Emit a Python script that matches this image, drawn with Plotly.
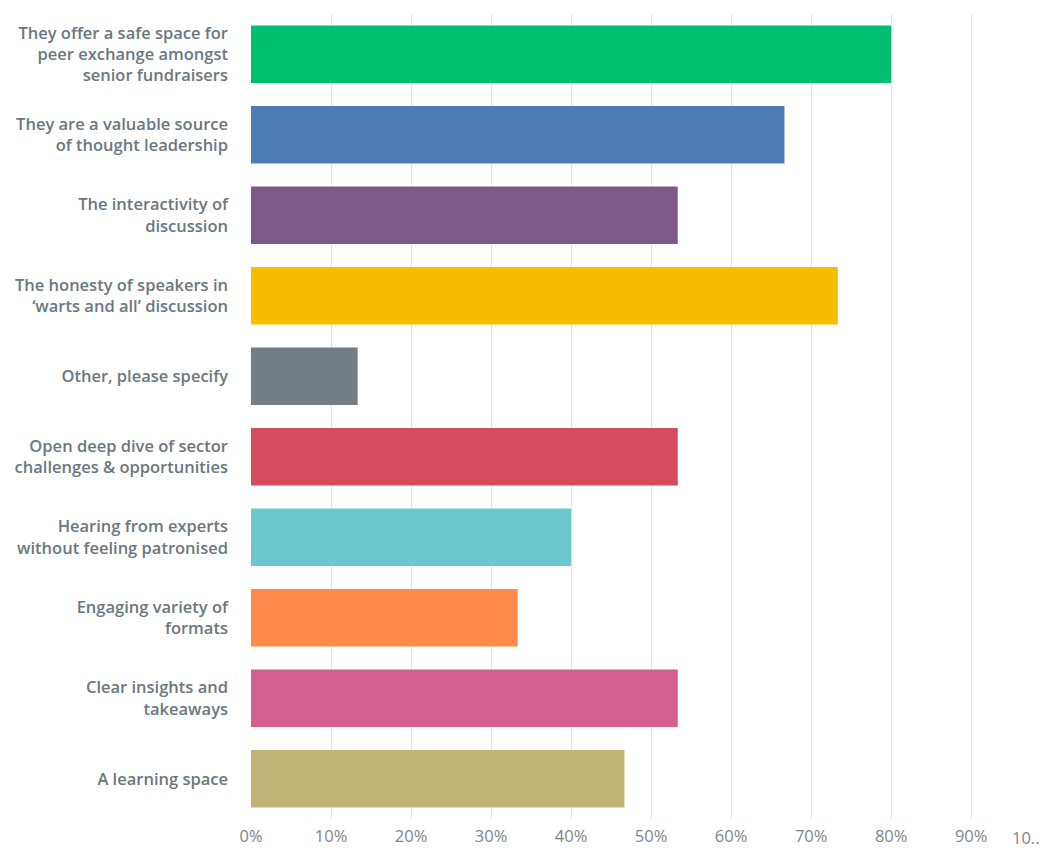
import plotly.graph_objects as go

categories = [
    "They offer a safe space for<br>peer exchange amongst<br>senior fundraisers",
    "They are a valuable source<br>of thought leadership",
    "The interactivity of<br>discussion",
    "The honesty of speakers in<br>‘warts and all’ discussion",
    "Other, please specify",
    "Open deep dive of sector<br>challenges & opportunities",
    "Hearing from experts<br>without feeling patronised",
    "Engaging variety of<br>formats",
    "Clear insights and<br>takeaways",
    "A learning space",
]
values = [80.0, 66.67, 53.33, 73.33, 13.33, 53.33, 40.0, 33.33, 53.33, 46.67]
colors = ["#00BF6F", "#507CB6", "#7B5A8A", "#F7BE00", "#737D83",
          "#D54B5D", "#6BC8CD", "#FF8A4C", "#D25F8D", "#C1B276"]
tick_vals = [0, 10, 20, 30, 40, 50, 60, 70, 80, 90]
tick_text = ["0%", "10%", "20%", "30%", "40%", "50%", "60%", "70%", "80%", "90%"]
last_tick = "10.."

fig = go.Figure(go.Bar(
    x=values, y=categories, orientation="h",
    marker=dict(color=colors, line=dict(width=0)),
    width=0.715, hoverinfo="x+y",
))

fig.update_layout(
    width=1044, height=848,
    margin=dict(l=251, r=0, t=14, b=29),
    plot_bgcolor="white", paper_bgcolor="white",
    showlegend=False,
    font=dict(family="Open Sans", color="#6B757C"),
)
fig.update_yaxes(
    autorange="reversed", showgrid=False, zeroline=False,
    ticks="", ticklabelstandoff=22,
    tickfont=dict(family="Open Sans", size=16.5, color="#6B777E", weight=600),
)
fig.update_xaxes(
    range=[0, 99.1], tickvals=tick_vals, ticktext=tick_text,
    showgrid=True, gridcolor="#E3E3E3", gridwidth=1, zeroline=False,
    ticks="", showline=False, ticklabelstandoff=5,
    tickfont=dict(family="Open Sans", size=16.5, color="#7C858B"),
)
fig.add_annotation(
    x=1, xref="paper", y=-0.0235, yref="paper", yanchor="middle",
    xanchor="right", xshift=-2, text=last_tick, showarrow=False,
    font=dict(family="Open Sans", size=16.5, color="#7C858B"),
)

fig.write_html("out.html")
